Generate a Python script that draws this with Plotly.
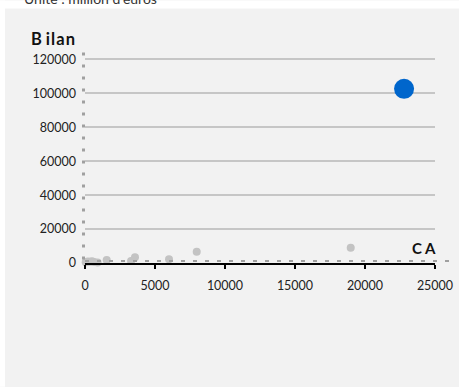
import plotly.graph_objects as go

# Data (CA, Bilan) in million euros
other_ca = [50, 200, 350, 500, 650, 900, 1550, 3290, 3570, 6000, 7980, 18980]
other_bilan = [500, 900, 700, 1000, 600, 300, 1760, 1200, 3350, 2200, 6650, 9000]
focus_ca = [22790]
focus_bilan = [102700]

y_ticks = [0, 20000, 40000, 60000, 80000, 100000, 120000]
x_ticks = [0, 5000, 10000, 15000, 20000, 25000]

W, H = 459, 387
L, R, T, B = 85, 24, 50.5, 124
pw = W - L - R
ph = H - T - B

def px_x(px):
    return (px - L) / pw

def px_y(py):
    return (H - B - py) / ph

FONT = "Lato"
HS = "\u200a"

fig = go.Figure()
fig.add_trace(go.Scatter(
    x=other_ca, y=other_bilan, mode="markers",
    marker=dict(color="#c3c3c3", size=8, line=dict(width=0)),
    cliponaxis=False, showlegend=False, hoverinfo="x+y"))
fig.add_trace(go.Scatter(
    x=focus_ca, y=focus_bilan, mode="markers",
    marker=dict(color="#0066cc", size=20, line=dict(width=0)),
    cliponaxis=False, showlegend=False, hoverinfo="x+y"))

shapes = [
    dict(type="rect", xref="paper", yref="paper", layer="below",
         x0=px_x(0), x1=px_x(W), y0=px_y(8), y1=px_y(0),
         fillcolor="white", line=dict(width=0)),
    dict(type="rect", xref="paper", yref="paper", layer="below",
         x0=px_x(0), x1=px_x(5), y0=px_y(H), y1=px_y(0),
         fillcolor="white", line=dict(width=0)),
    dict(type="line", xref="paper", yref="paper",
         x0=px_x(83.5), x1=px_x(83.5), y0=px_y(52), y1=px_y(266),
         line=dict(color="#a0a0a0", width=3, dash="3px,9px")),
    dict(type="line", xref="paper", yref="paper",
         x0=px_x(85), x1=px_x(453), y0=px_y(261), y1=px_y(261),
         line=dict(color="#a0a0a0", width=2, dash="4px,8px")),
]

annotations = [
    dict(text="Unité : million d'euros", xref="paper", yref="paper",
         x=px_x(22), y=px_y(-2), xanchor="left", yanchor="middle",
         showarrow=False, font=dict(family=FONT, size=14, color="#333333")),
    dict(text="<b>B " + HS.join("ilan") + "</b>", xref="paper", yref="paper",
         x=px_x(29), y=px_y(38), xanchor="left", yanchor="middle",
         showarrow=False, font=dict(family=FONT, size=16.5, color="#111111")),
    dict(text="<b>C A</b>", xref="paper", yref="paper",
         x=px_x(438), y=px_y(248), xanchor="right", yanchor="middle",
         showarrow=False, font=dict(family=FONT, size=15, color="#111111")),
]

fig.update_layout(
    width=W, height=H, autosize=False,
    margin=dict(l=L, r=R, t=T, b=B, pad=0),
    paper_bgcolor="#f2f2f2", plot_bgcolor="#f2f2f2",
    font=dict(family=FONT, size=12.5, color="#222222"),
    shapes=shapes, annotations=annotations, showlegend=False,
)
fig.update_xaxes(
    range=[0, 25000], tickvals=x_ticks, ticktext=[str(v) for v in x_ticks],
    showgrid=False, zeroline=False, automargin=False,
    showline=True, linecolor="black", linewidth=2,
    ticks="outside", ticklen=4, tickwidth=2, tickcolor="black",
    ticklabelstandoff=6,
)
fig.update_yaxes(
    range=[0, 125000], tickvals=y_ticks, ticktext=[str(v) for v in y_ticks],
    showgrid=True, gridcolor="#c6c6c6", gridwidth=2,
    zeroline=False, showline=False, ticks="", automargin=False,
    ticklabelstandoff=8,
)

post = """
document.documentElement.style.overflow='hidden';
document.body.style.margin='0';
document.body.style.overflow='hidden';
document.body.style.background='#f2f2f2';
"""

fig.write_html(
    "out.html",
    config=dict(displayModeBar=False, responsive=False),
    post_script=post,
)
